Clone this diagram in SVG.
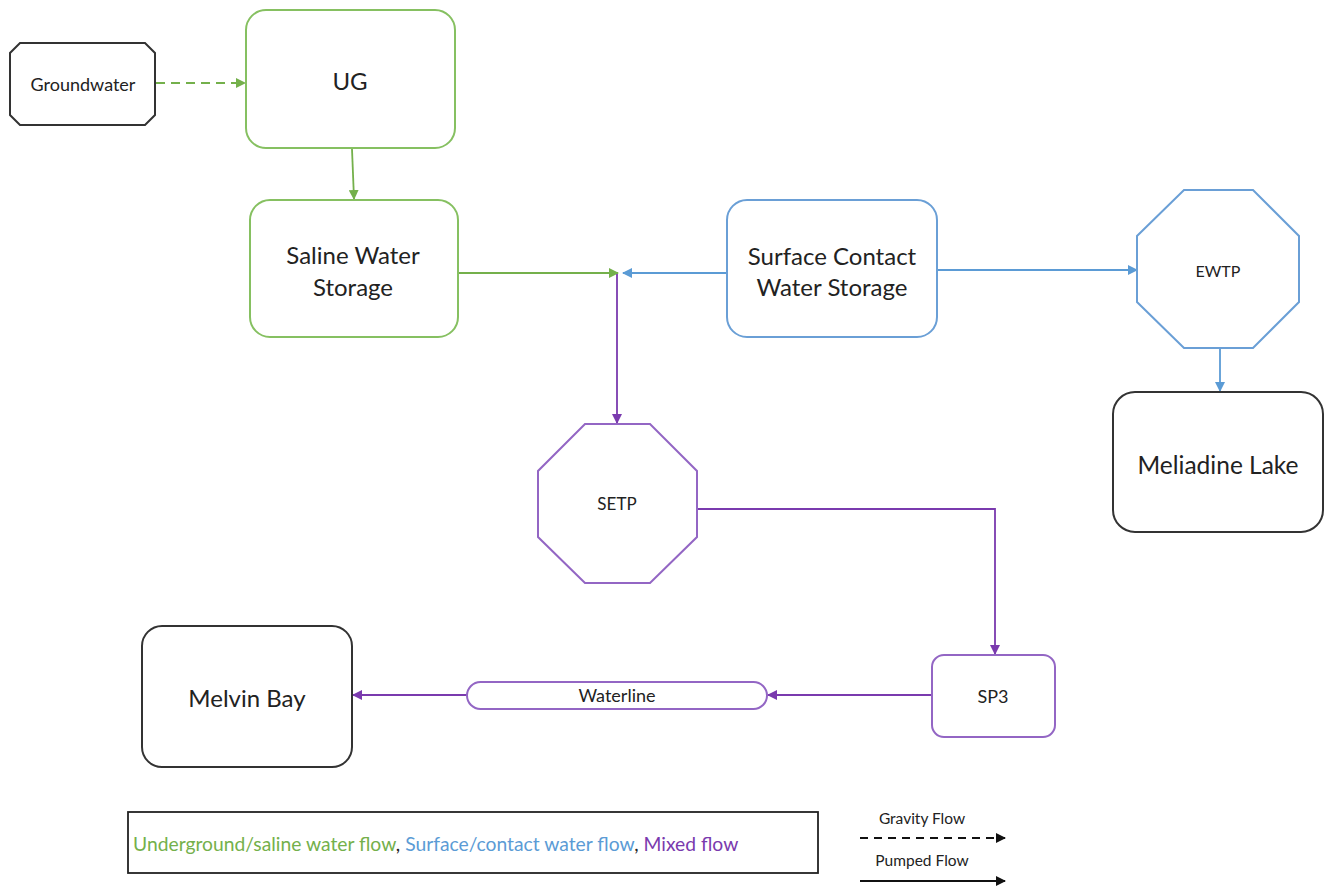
<svg xmlns="http://www.w3.org/2000/svg" width="1328" height="886" viewBox="0 0 1328 886">
<style>
text{font-family:Lato,"Open Sans","Liberation Sans",sans-serif;fill:#222;text-anchor:middle;dominant-baseline:central}
.g{fill:#fff;stroke:#86C061;stroke-width:2}
.b{fill:#fff;stroke:#6A9FD6;stroke-width:2}
.p{fill:#fff;stroke:#9366C4;stroke-width:2}
.k{fill:#fff;stroke:#333;stroke-width:2}
.lg{fill:none;stroke:#74B04B;stroke-width:1.8}
.lb{fill:none;stroke:#5B9BD5;stroke-width:1.8}
.lp{fill:none;stroke:#7A3AAE;stroke-width:1.8}
.lk{fill:none;stroke:#111;stroke-width:1.8}
</style>
<defs>
<marker id="ag" markerWidth="10" markerHeight="10" refX="9" refY="5" orient="auto" markerUnits="userSpaceOnUse"><path d="M0,0 L10,5 L0,10 z" fill="#74B04B"/></marker>
<marker id="ab" markerWidth="10" markerHeight="10" refX="9" refY="5" orient="auto" markerUnits="userSpaceOnUse"><path d="M0,0 L10,5 L0,10 z" fill="#5B9BD5"/></marker>
<marker id="ap" markerWidth="10" markerHeight="10" refX="9" refY="5" orient="auto" markerUnits="userSpaceOnUse"><path d="M0,0 L10,5 L0,10 z" fill="#7A3AAE"/></marker>
<marker id="ak" markerWidth="10" markerHeight="10" refX="9" refY="5" orient="auto" markerUnits="userSpaceOnUse"><path d="M0,0 L10,5 L0,10 z" fill="#111"/></marker>
</defs>

<g id="connectors">
<line class="lg" x1="156" y1="83" x2="245" y2="83" stroke-dasharray="9,6" marker-end="url(#ag)"/>
<line class="lg" x1="352" y1="149" x2="354" y2="199" marker-end="url(#ag)"/>
<line class="lg" x1="459" y1="273" x2="618" y2="273" marker-end="url(#ag)"/>
<line class="lb" x1="726" y1="273" x2="623" y2="273" marker-end="url(#ab)"/>
<line class="lp" x1="617" y1="274" x2="617" y2="423" marker-end="url(#ap)"/>
<line class="lb" x1="938" y1="270" x2="1137" y2="270" marker-end="url(#ab)"/>
<line class="lb" x1="1220" y1="349" x2="1220" y2="391" marker-end="url(#ab)"/>
<polyline class="lp" points="697,509 995,509 995,654" marker-end="url(#ap)"/>
<line class="lp" x1="931" y1="695" x2="768" y2="695" marker-end="url(#ap)"/>
<line class="lp" x1="467" y1="695" x2="353" y2="695" marker-end="url(#ap)"/>
</g>

<g id="groundwater">
<polygon class="k" points="20,43 145,43 155,53 155,115 145,125 20,125 10,115 10,53"/>
<text x="83" y="84" font-size="18">Groundwater</text>
</g>
<g id="ug">
<rect class="g" x="246" y="10" width="209" height="138" rx="20"/>
<text x="350" y="80" font-size="24">UG</text>
</g>
<g id="saline">
<rect class="g" x="250" y="200" width="208" height="137" rx="20"/>
<text x="353" y="254" font-size="24">Saline Water</text>
<text x="353" y="286" font-size="24">Storage</text>
</g>
<g id="surface">
<rect class="b" x="727" y="200" width="210" height="137" rx="20"/>
<text x="832" y="255" font-size="24">Surface Contact</text>
<text x="832" y="286" font-size="24">Water Storage</text>
</g>
<g id="ewtp">
<polygon class="b" points="1184,190 1253,190 1299,236 1299,302 1253,348 1184,348 1137,302 1137,236"/>
<text x="1218" y="270" font-size="16">EWTP</text>
</g>
<g id="meliadine">
<rect class="k" x="1113" y="392" width="210" height="140" rx="22"/>
<text x="1218" y="464" font-size="24.5">Meliadine Lake</text>
</g>
<g id="setp">
<polygon class="p" points="585,424 650,424 697,471 697,537 650,583 585,583 538,537 538,471"/>
<text x="617" y="503" font-size="17">SETP</text>
</g>
<g id="sp3">
<rect class="p" x="932" y="655" width="123" height="82" rx="12"/>
<text x="993" y="696" font-size="18">SP3</text>
</g>
<g id="waterline">
<rect class="p" x="467" y="682" width="300" height="27" rx="13.5"/>
<text x="617" y="695" font-size="18">Waterline</text>
</g>
<g id="melvin">
<rect class="k" x="142" y="626" width="210" height="141" rx="20"/>
<text x="247" y="697" font-size="24">Melvin Bay</text>
</g>

<g id="legend">
<rect x="128" y="812" width="690" height="61" fill="#fff" stroke="#222" stroke-width="1.8"/>
<text x="133" y="843" font-size="19.3" style="text-anchor:start"><tspan fill="#74B04B">Underground/saline water flow</tspan><tspan fill="#222">, </tspan><tspan fill="#5B9BD5">Surface/contact water flow</tspan><tspan fill="#222">, </tspan><tspan fill="#7A3AAE">Mixed flow</tspan></text>
<text x="922" y="818" font-size="15.5">Gravity Flow</text>
<line class="lk" x1="860" y1="838" x2="1005" y2="838" stroke-dasharray="8,6" marker-end="url(#ak)"/>
<text x="922" y="860" font-size="15.5">Pumped Flow</text>
<line class="lk" x1="860" y1="881" x2="1005" y2="881" marker-end="url(#ak)"/>
</g>
</svg>
